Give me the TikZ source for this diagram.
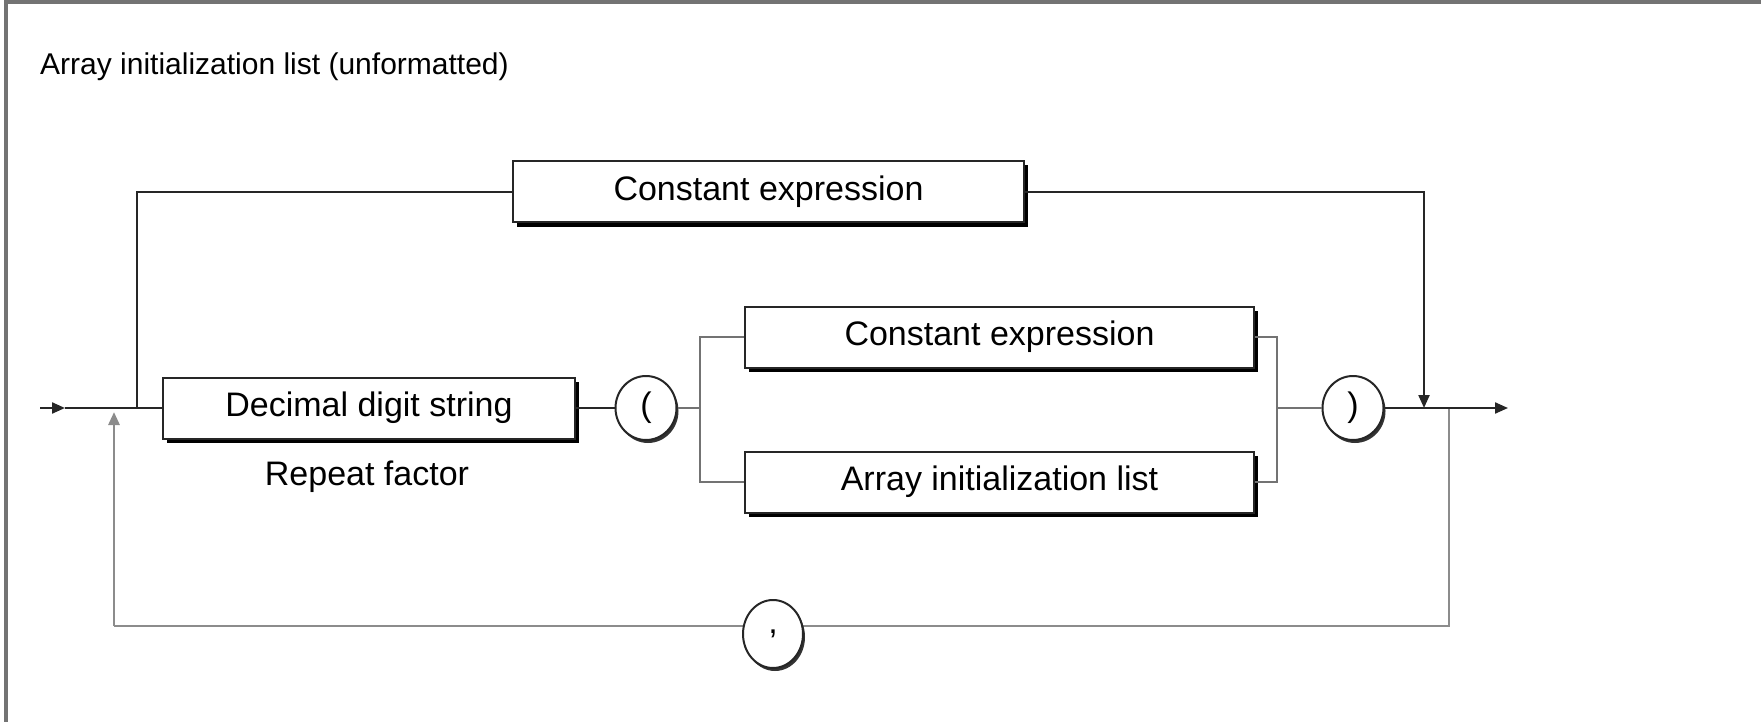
\documentclass[tikz,border=0pt]{standalone}
\usepackage{fontspec}
\setmainfont{Liberation Sans}
\usetikzlibrary{arrows.meta,shapes.geometric,shadows}

\begin{document}
\begin{tikzpicture}[x=1pt,y=-1pt,
  mainline/.style={draw=black!85, line width=2.2pt},
  branchline/.style={draw=black!55, line width=2.4pt},
  loopline/.style={draw=black!45, line width=2.8pt},
  tip/.style={-{Triangle[length=13pt,width=11pt]}},
  drop/.style={general shadow={fill=black, shadow xshift=4pt, shadow yshift=-4pt}},
  termbox/.style={draw=black!85, line width=2pt, fill=white, drop,
    minimum height=61pt, inner sep=0pt, font=\fontsize{34}{40}\selectfont},
  termcirc/.style={ellipse, draw=black!85, line width=2pt, fill=white,
    general shadow={fill=black!80, shadow xshift=2pt, shadow yshift=-3pt},
    minimum width=61pt, minimum height=64pt, inner sep=0pt,
    font=\fontsize{34}{40}\selectfont},
  label/.style={inner sep=0pt, font=\fontsize{34}{40}\selectfont},
  heading/.style={inner sep=0pt, font=\fontsize{30}{36}\selectfont},
]
\useasboundingbox (0,0) rectangle (1761,722);

% frame edges
\draw[draw=black!55, line width=3.5pt] (6,722) -- (6,2) -- (1761,2);

% title
\node[heading, anchor=base west] (title) at (40,75) {Array initialization list (unformatted)};

% terms
\node[termbox, minimum width=511pt] (ce1) at (768.5,192) {Constant expression};
\node[termbox, minimum width=412pt] (dec) at (369,408) {Decimal digit string};
\node[label, anchor=base] (rf) at (367,485) {Repeat factor};
\node[termcirc] (lp) at (646,408) {(};
\node[termbox, minimum width=509pt] (ce2) at (999.5,337) {Constant expression};
\node[termbox, minimum width=509pt] (ail) at (999.5,482) {Array initialization list};
\node[termcirc] (rp) at (1353,408) {)};

% junctions on the main line
\coordinate (start) at (40,408);
\coordinate (a1) at (65,408);
\coordinate (up) at (114,412);
\coordinate (jL) at (137,408);
\coordinate (bl) at (700,408);
\coordinate (br) at (1277,408);
\coordinate (jD) at (1424,408);
\coordinate (jR) at (1449,408);
\coordinate (fin) at (1508,408);
\coordinate (bR) at (1449,626);
\coordinate (bL) at (114,626);

% bottom repeat loop
\draw[loopline, line join=miter] (jR) -- (bR) -- (bL);
\draw[loopline, tip] (bL) -- (up);
\node[ellipse, draw=black!85, line width=2pt, fill=white,
  general shadow={fill=black!80, shadow xshift=2pt, shadow yshift=-3pt},
  minimum width=60pt, minimum height=68pt, inner sep=0pt,
  font=\fontsize{34}{40}\selectfont] (comma) at (773,634) {,};

% main line
\draw[mainline, tip] (start) -- (a1);
\draw[mainline] (a1) -- (dec.west);
\draw[mainline] (dec.east) -- (lp.west);

% bypass over the repeat factor
\draw[mainline] (jL) |- (ce1.west);
\draw[mainline, tip] (ce1.east) -| (jD);

% alternatives inside the parentheses
\draw[branchline] (lp.east) -- (bl);
\draw[branchline] (bl) |- (ce2.west);
\draw[branchline] (bl) |- (ail.west);
\draw[branchline] (ce2.east) -| (br);
\draw[branchline] (ail.east) -| (br);
\draw[branchline] (br) -- (rp.west);

% exit
\draw[mainline] (rp.east) -- (jD) -- (jR);
\draw[mainline, tip] (jR) -- (fin);
\end{tikzpicture}
\end{document}
